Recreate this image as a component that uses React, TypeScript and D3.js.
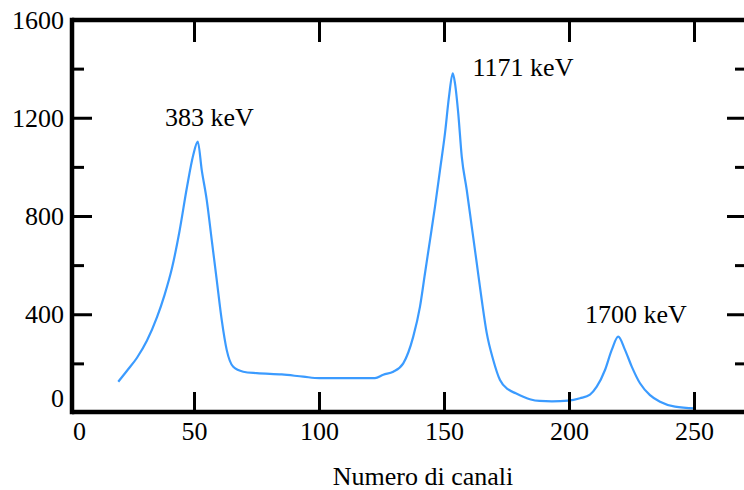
import * as d3 from "d3";

// Spectrum: channel number and counts
const channels = [
  19.5, 23, 27, 31, 35, 38, 41, 44, 47, 49.5, 51.3, 52.9, 54.9, 56.9,
  58.9, 60.9, 62.9, 65.5, 69.5, 74.9, 84.9, 93.5, 100, 122.2, 125.5, 129.5, 133.5,
  137.5, 140.2, 142.2, 144.2, 146.2, 148.2, 150.2, 151.8, 153.3, 154.2, 155.5, 156.9,
  158.9, 160.9, 162.9, 164.9, 166.9, 169.5, 172.2, 175.5, 178.5, 181.5, 184.5, 188,
  193, 199.5, 204.2, 208.2, 210.9, 214.2, 216.9, 219.5, 222.2, 224.9, 228.2, 232.2,
  236.2, 242.2, 250.2,
];
const counts = [
  127, 172, 225, 295, 390, 480, 590, 740, 920, 1050, 1105, 989, 867, 704,
  541, 378, 256, 188, 168, 162, 157, 148, 142, 142, 156, 168, 202,
  311, 433, 569, 704, 840, 989, 1139, 1288, 1383, 1342, 1220, 1044,
  908, 759, 610, 460, 325, 216, 134, 96, 80, 66, 55, 49,
  47, 50, 60, 75, 107, 175, 257, 311, 257, 189, 121, 73,
  46, 26, 19,
];

const xTicks = [0, 50, 100, 150, 200, 250];
const yTicks = [0, 400, 800, 1200, 1600];
const yMinorTicks = [200, 600, 1000, 1400];

// peak labels anchored in data coordinates (text centre, baseline)
const peakLabels = ["383 keV", "1171 keV", "1700 keV"];
const peakLabelCh = [56, 181.4, 226.6];
const peakLabelVal = [1168, 1372, 366];

const W = 744;
const H = 490;
const font = "'Liberation Serif', 'Times New Roman', serif";

export default function App() {
  const left = 72;
  const top = 20;
  const bottom = 412;
  const right = 747;

  const x = d3.scaleLinear().domain([0, 272]).range([69.5, 749.5]);
  const y = d3.scaleLinear().domain([0, 1600]).range([413, 20]);

  const line = d3
    .line<number>()
    .x((_, i) => x(channels[i]))
    .y((d) => y(d))
    .curve(d3.curveMonotoneX);

  const major = 20;
  const minor = 12;

  return (
    <svg
      width={W}
      height={H}
      style={{ position: "absolute", left: 0, top: 0, background: "#fff" }}
      fontFamily={font}
    >
      {/* spectrum */}
      <path d={line(counts) ?? ""} fill="none" stroke="#3b9bff" strokeWidth={2.2} strokeLinejoin="round" />

      {/* frame */}
      <g stroke="#000" strokeWidth={4.5} fill="none">
        <line x1={left} x2={left} y1={top - 2.25} y2={bottom + 2.25} />
        <line x1={left} x2={right + 4} y1={top} y2={top} />
        <line x1={left} x2={right + 4} y1={bottom} y2={bottom} />
        <line x1={right} x2={right} y1={top} y2={bottom} />
      </g>

      {/* ticks, all pointing inward */}
      <g stroke="#000" strokeWidth={3}>
        {xTicks.filter((t) => t > 0).map((t) => (
          <g key={t}>
            <line x1={x(t)} x2={x(t)} y1={bottom} y2={bottom - major} />
            <line x1={x(t)} x2={x(t)} y1={top} y2={top + major + 2} />
          </g>
        ))}
        {yTicks.filter((t) => t > 0 && t < 1600).map((t) => (
          <g key={t}>
            <line x1={left} x2={left + major} y1={y(t)} y2={y(t)} />
            <line x1={right} x2={right - major} y1={y(t)} y2={y(t)} />
          </g>
        ))}
        {yMinorTicks.map((t) => (
          <g key={t}>
            <line x1={left} x2={left + minor} y1={y(t)} y2={y(t)} />
            <line x1={right} x2={right - minor} y1={y(t)} y2={y(t)} />
          </g>
        ))}
      </g>

      {/* x tick labels */}
      <g fontSize={26} textAnchor="middle" fill="#000">
        {xTicks.map((t) => (
          <text key={t} x={x(t) + (t === 0 ? 10 : 0)} y={439.5}>
            {t}
          </text>
        ))}
      </g>

      {/* y tick labels */}
      <g fontSize={26} textAnchor="end" fill="#000">
        {yTicks.map((t) => (
          <text key={t} x={64} y={y(t) + (t === 0 ? -15 : 0)} dy="0.33em">
            {t}
          </text>
        ))}
      </g>

      {/* peak labels */}
      <g fontSize={26} textAnchor="middle" fill="#000">
        {peakLabels.map((s, i) => (
          <text key={s} x={x(peakLabelCh[i])} y={y(peakLabelVal[i])}>
            {s}
          </text>
        ))}
      </g>

      <text x={423} y={485} fontSize={26} textAnchor="middle" fill="#000">
        Numero di canali
      </text>
    </svg>
  );
}
